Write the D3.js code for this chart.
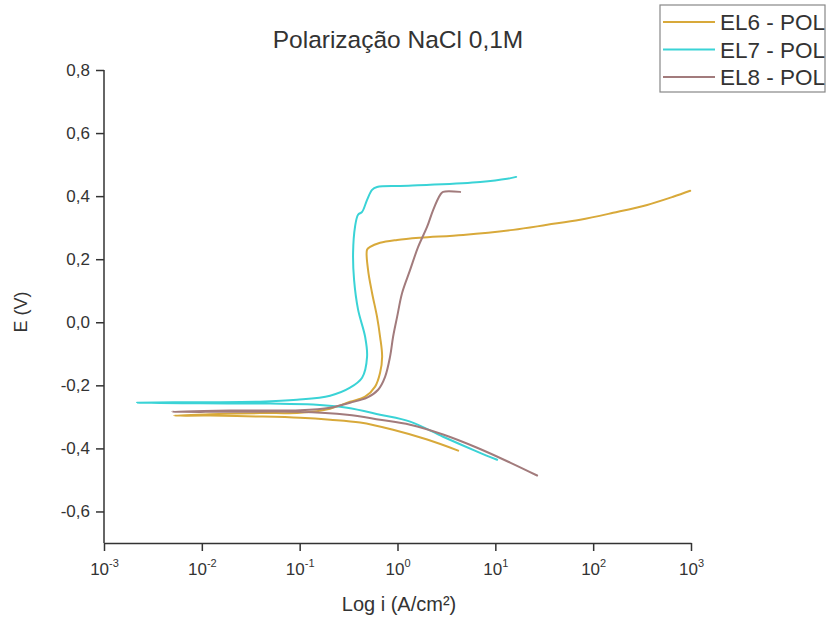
<html>
<head>
<meta charset="utf-8">
<script src="https://d3js.org/d3.v7.min.js"></script>
<style>
body { margin: 0; background: #fff; }
text { font-family: "Liberation Sans", Arial, sans-serif; fill: #333; }
.axis path, .axis line { fill: none; stroke: #333; stroke-width: 1.5; }
.curve { fill: none; stroke-width: 2; stroke-linejoin: round; stroke-linecap: round; }
</style>
</head>
<body>
<svg width="827" height="619"></svg>
<script>
// series names and colours
var seriesNames = ["EL6 - POL", "EL7 - POL", "EL8 - POL"];
var seriesColors = ["#d8a93a", "#3ad3d6", "#a27b7c"];

// log10 of current density (A/cm2) and potential E (V)
var el6LogI = [0.62, 0.303, -0.045, -0.382, -0.689, -0.996, -1.405, -1.916, -2.284,
  -1.916, -1.405, -0.996, -0.689, -0.485, -0.331, -0.229, -0.178, -0.157, -0.178, -0.209,
  -0.26, -0.301, -0.311, -0.28, -0.178, -0.004, 0.231, 0.671, 1.182, 1.53, 1.867, 2.204,
  2.552, 2.818, 2.992];
var el6E = [-0.407, -0.372, -0.341, -0.318, -0.309, -0.303, -0.299, -0.296, -0.296,
  -0.292, -0.288, -0.287, -0.274, -0.252, -0.236, -0.204, -0.16, -0.109, -0.046, 0.017,
  0.093, 0.166, 0.23, 0.239, 0.252, 0.261, 0.268, 0.277, 0.293, 0.309, 0.325, 0.347,
  0.372, 0.398, 0.417];

var el7LogI = [1.018, 0.814, 0.466, 0.129, -0.178, -0.515, -0.863, -1.303, -2.018, -2.663,
  -2.018, -1.405, -1.027, -0.689, -0.485, -0.362, -0.311, -0.331, -0.403, -0.444, -0.454,
  -0.434, -0.403, -0.362, -0.311, -0.26, -0.209, 0.027, 0.333, 0.845, 1.121, 1.213];
var el7E = [-0.436, -0.41, -0.363, -0.315, -0.293, -0.271, -0.261, -0.258, -0.257, -0.255,
  -0.2535, -0.252, -0.246, -0.233, -0.2075, -0.176, -0.109, -0.046, 0.04, 0.135, 0.22,
  0.303, 0.341, 0.35, 0.388, 0.42, 0.429, 0.4325, 0.436, 0.445, 0.455, 0.461];

var el8LogI = [1.427, 1.151, 0.814, 0.466, 0.129, -0.178, -0.515, -1.027, -1.712, -2.305,
  -1.712, -0.996, -0.689, -0.485, -0.311, -0.198, -0.127, -0.076, -0.045, -0.004, 0.047,
  0.129, 0.211, 0.303, 0.364, 0.436, 0.466, 0.64];
var el8E = [-0.486, -0.445, -0.398, -0.356, -0.325, -0.309, -0.293, -0.284, -0.284, -0.284,
  -0.28, -0.279, -0.271, -0.255, -0.239, -0.214, -0.173, -0.109, -0.046, 0.017, 0.093,
  0.166, 0.239, 0.303, 0.356, 0.404, 0.4135, 0.4135];

// axis ticks
var xTickExponents = [-3, -2, -1, 0, 1, 2, 3];
var yTickValues = [-0.6, -0.4, -0.2, 0.0, 0.2, 0.4, 0.6, 0.8];

var series = [
  { logI: el6LogI, e: el6E },
  { logI: el7LogI, e: el7E },
  { logI: el8LogI, e: el8E }
];

var svg = d3.select("svg");

var xScale = d3.scaleLog().domain([1e-3, 1e3]).range([104, 691]);
var yScale = d3.scaleLinear().domain([-0.7, 0.8]).range([543, 70]);

// y axis
var yAxis = svg.append("g")
  .attr("class", "axis")
  .attr("transform", "translate(104,0)")
  .call(d3.axisLeft(yScale)
    .tickValues(yTickValues)
    .tickSize(8)
    .tickPadding(6)
    .tickSizeOuter(0)
    .tickFormat(function(d) { return d.toFixed(1).replace(".", ","); }));
yAxis.select(".domain").attr("d", "M0,70V543");
yAxis.selectAll("text").style("font-size", "17px").attr("fill", "#333");

// x axis
var xAxis = svg.append("g")
  .attr("class", "axis")
  .attr("transform", "translate(0,543)")
  .call(d3.axisBottom(xScale)
    .tickValues(xTickExponents.map(function(p) { return Math.pow(10, p); }))
    .tickSize(8)
    .tickSizeOuter(0)
    .tickFormat(""));
xAxis.selectAll(".tick").each(function(d, i) {
  var t = d3.select(this).append("text")
    .attr("y", 32)
    .attr("text-anchor", "middle")
    .style("font-size", "17px")
    .attr("fill", "#333");
  t.append("tspan").text("10");
  t.append("tspan").attr("dy", -8).style("font-size", "11px").text(xTickExponents[i]);
});

// curves
var line = d3.line()
  .x(function(d) { return xScale(Math.pow(10, d[0])); })
  .y(function(d) { return yScale(d[1]); })
  .curve(d3.curveCatmullRom.alpha(0.5));

series.forEach(function(s, k) {
  var pts = s.logI.map(function(v, j) { return [v, s.e[j]]; });
  svg.append("path")
    .attr("class", "curve")
    .attr("d", line(pts))
    .attr("stroke", seriesColors[k]);
});

// title and axis labels
svg.append("text")
  .attr("x", 398).attr("y", 48)
  .attr("text-anchor", "middle")
  .style("font-size", "24.5px")
  .attr("fill", "#222")
  .text("Polarização NaCl 0,1M");

svg.append("text")
  .attr("x", 399).attr("y", 611)
  .attr("text-anchor", "middle")
  .style("font-size", "20px")
  .text("Log i (A/cm²)");

svg.append("text")
  .attr("transform", "translate(27,312) rotate(-90)")
  .attr("text-anchor", "middle")
  .style("font-size", "18px")
  .text("E (V)");

// legend
var legend = svg.append("g");
legend.append("rect")
  .attr("x", 660).attr("y", 5)
  .attr("width", 165).attr("height", 87)
  .attr("fill", "#fff")
  .attr("stroke", "#888")
  .attr("stroke-width", 1.2);
seriesNames.forEach(function(name, k) {
  var yy = 22 + k * 27.5;
  legend.append("line")
    .attr("x1", 663).attr("x2", 715)
    .attr("y1", yy).attr("y2", yy)
    .attr("stroke", seriesColors[k])
    .attr("stroke-width", 2);
  legend.append("text")
    .attr("x", 720).attr("y", yy)
    .attr("dy", "0.36em")
    .style("font-size", "22.5px")
    .attr("fill", "#222")
    .text(name);
});
</script>
</body>
</html>
